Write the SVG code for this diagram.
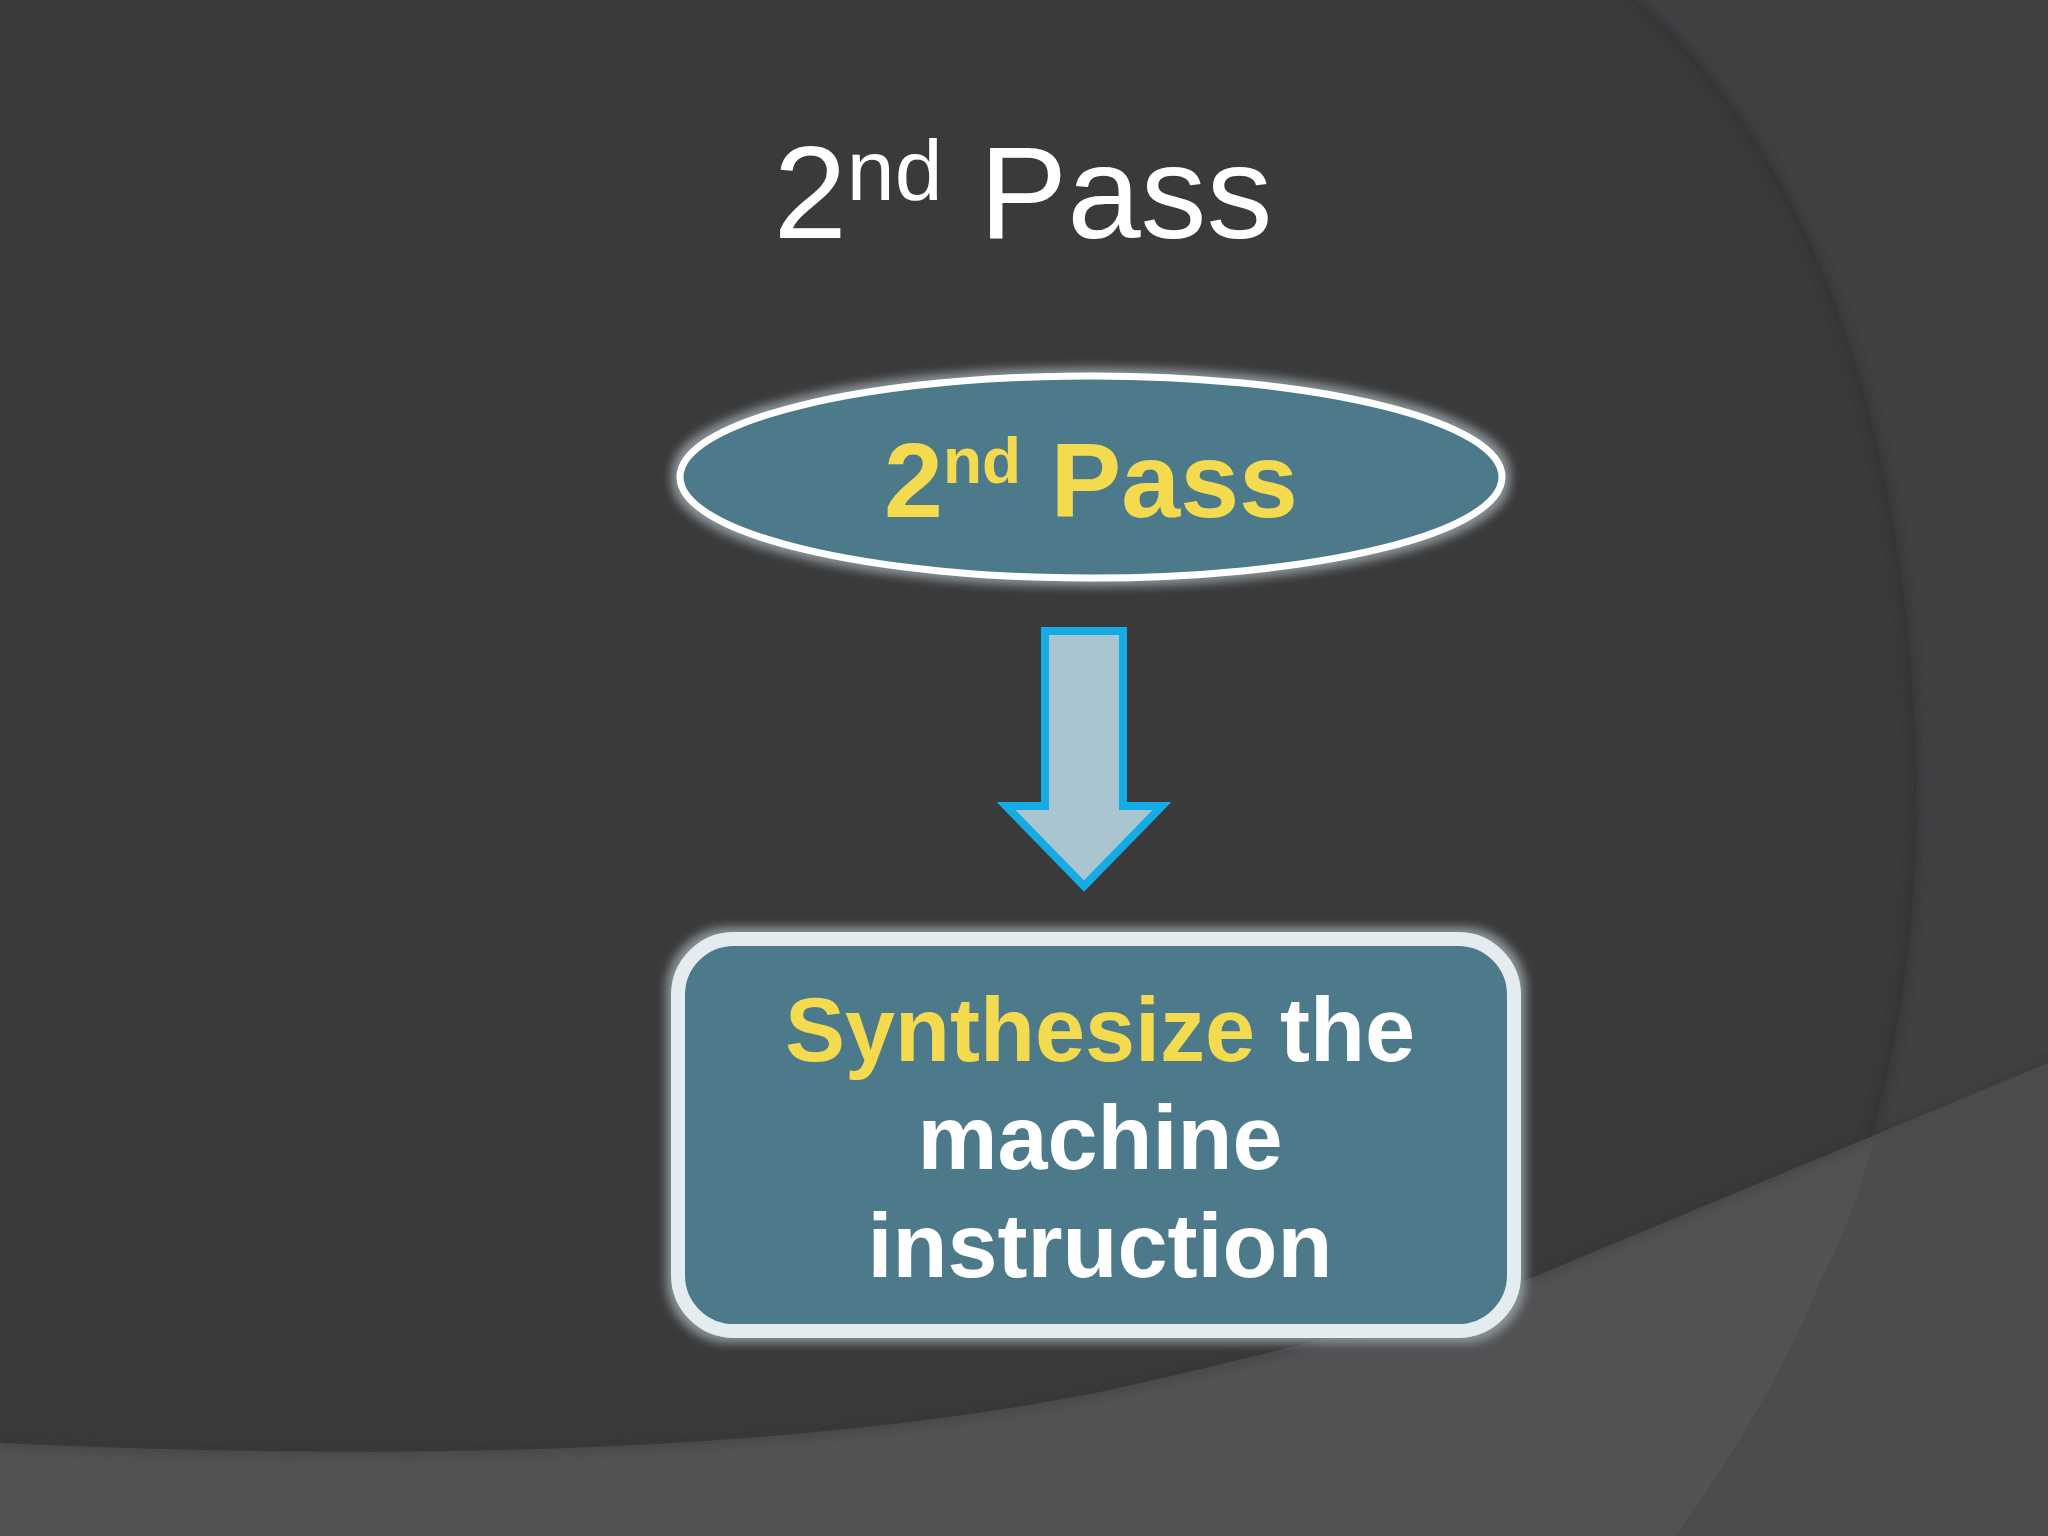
<svg xmlns="http://www.w3.org/2000/svg" width="2048" height="1536" viewBox="0 0 2048 1536">
<defs>
<style>
.title{font-family:"Liberation Sans",Arial,sans-serif;fill:#ffffff}
.bold{font-family:"Liberation Sans",Arial,sans-serif;font-weight:bold}
.yellow{fill:#F4DA4F}
.white{fill:#ffffff}
.shape{fill:#4E7A8A}
</style>
<filter id="glow" x="-10%" y="-10%" width="120%" height="120%">
<feMorphology in="SourceAlpha" operator="dilate" radius="5" result="d"/>
<feGaussianBlur in="d" stdDeviation="5" result="b"/>
<feFlood flood-color="#98A2A7" flood-opacity="0.85"/>
<feComposite in2="b" operator="in" result="g"/>
<feMerge><feMergeNode in="g"/><feMergeNode in="SourceGraphic"/></feMerge>
</filter>
<filter id="soft" x="-5%" y="-5%" width="110%" height="110%">
<feGaussianBlur stdDeviation="5"/>
</filter>
</defs>
<g id="background">
<rect x="0" y="0" width="2048" height="1536" fill="#3A3A3B"/>
<path d="M1636,0 C1840,180 1916,500 1916,803 C1916,1100 1820,1330 1675,1536 L2048,1536 L2048,0 Z" fill="#414042"/>
<path d="M1636,0 C1840,180 1916,500 1916,803 C1916,1100 1820,1330 1675,1536" fill="none" stroke="#2E2E30" stroke-width="8" opacity="0.6" filter="url(#soft)"/>
<path d="M0,1443 C400,1462 800,1452 1100,1392 C1300,1348 1480,1298 1531,1278 L2048,1063 L2048,1536 L0,1536 Z" fill="#525254"/>
<path d="M0,1443 C400,1462 800,1452 1100,1392 C1300,1348 1480,1298 1531,1278 L2048,1063" fill="none" stroke="#303032" stroke-width="6" opacity="0.5" filter="url(#soft)"/>
<path d="M1820,1282 C1780,1380 1730,1460 1675,1536 L2048,1536 L2048,1063 L1874,1140 C1860,1190 1845,1235 1820,1282 Z" fill="#4C4B4D"/>
</g>
<g id="title">
<text class="title" x="1023" y="238" text-anchor="middle" font-size="132">2<tspan font-size="86" dy="-38">nd</tspan><tspan dy="38"> Pass</tspan></text>
</g>
<g id="node-ellipse">
<ellipse cx="1091" cy="477" rx="411" ry="101" class="shape" stroke="#ffffff" stroke-width="7" filter="url(#glow)"/>
<text class="bold yellow" x="1091" y="517" text-anchor="middle" font-size="106">2<tspan font-size="64" dy="-34">nd</tspan><tspan dy="34"> Pass</tspan></text>
</g>
<g id="connectors">
<path d="M1045,631 L1123,631 L1123,806 L1162,806 L1084,886 L1006,806 L1045,806 Z" fill="#A9C6D0" stroke="#15ACE6" stroke-width="8" stroke-linejoin="miter"/>
</g>
<g id="node-box">
<rect x="678" y="939" width="836" height="392" rx="56" ry="56" class="shape" stroke="#E4ECF0" stroke-width="14" filter="url(#glow)"/>
<text class="bold" x="1100" y="1061" text-anchor="middle" font-size="90"><tspan class="yellow">Synthesize</tspan><tspan class="white"> the</tspan></text>
<text class="bold white" x="1100" y="1169" text-anchor="middle" font-size="90">machine</text>
<text class="bold white" x="1100" y="1277" text-anchor="middle" font-size="90">instruction</text>
</g>
</svg>
